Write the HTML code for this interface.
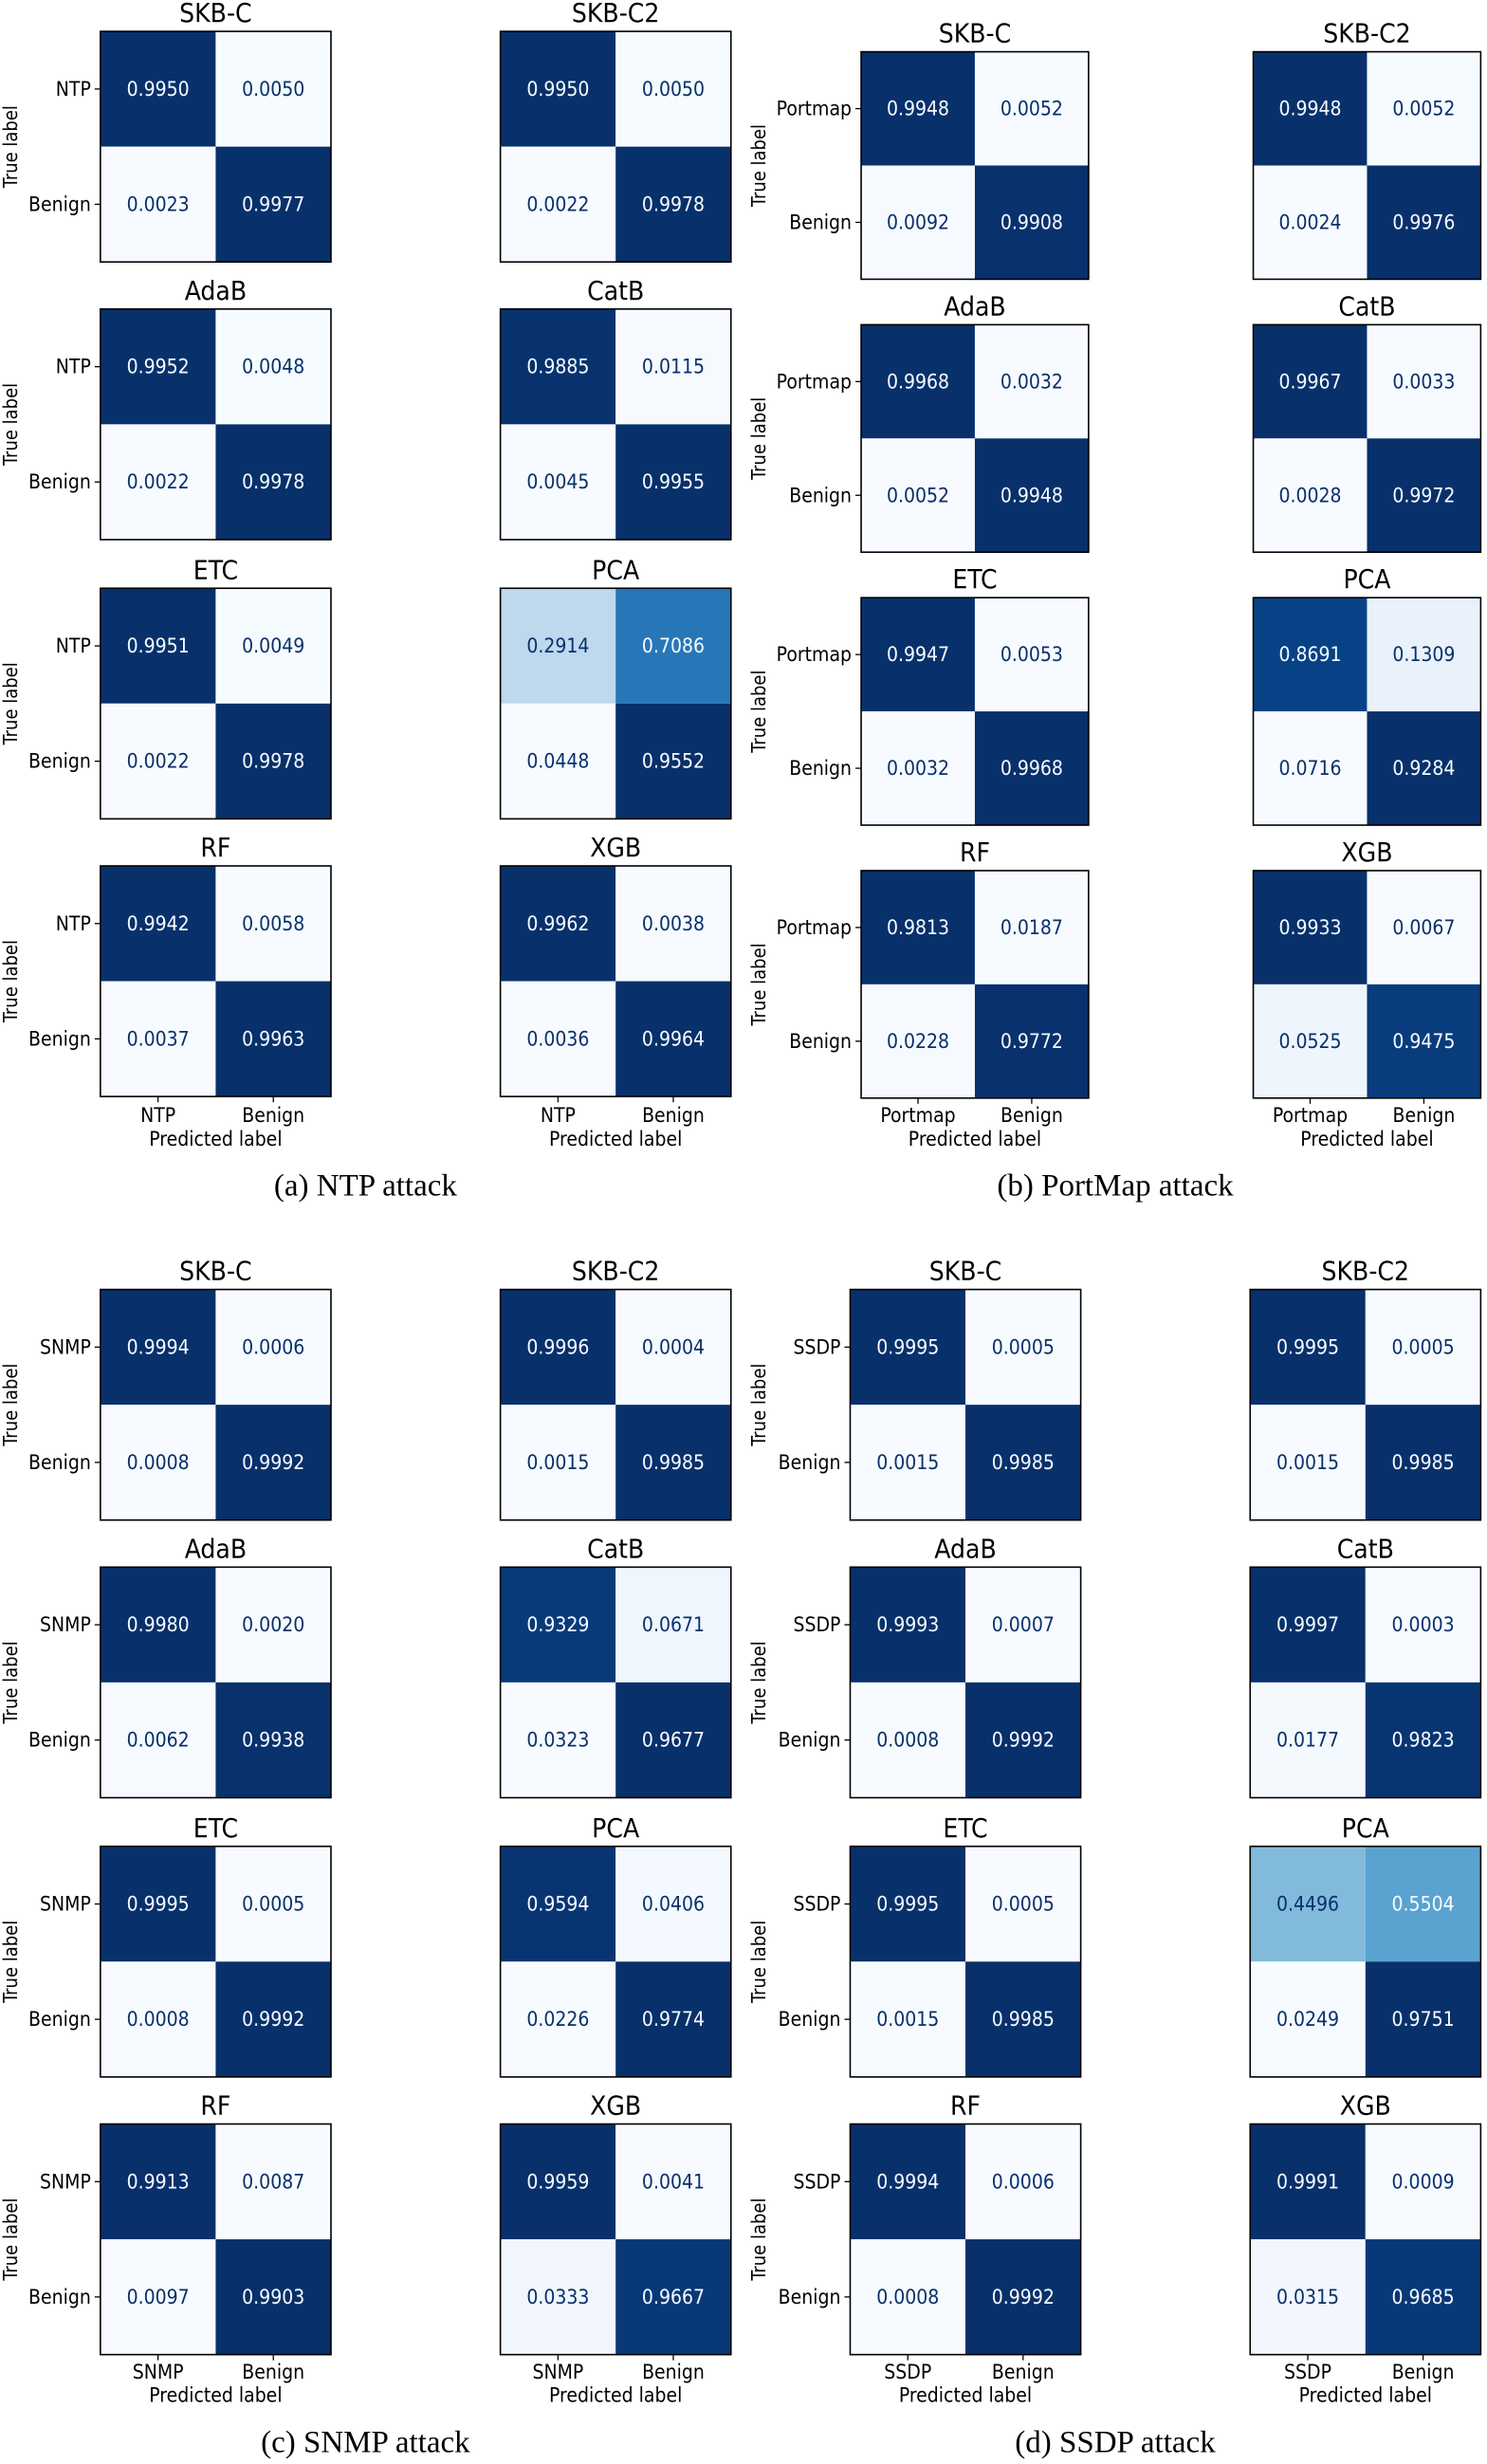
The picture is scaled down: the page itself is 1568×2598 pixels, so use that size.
<!DOCTYPE html>
<html><head><meta charset="utf-8"><style>
html,body{margin:0;padding:0;background:#fff;}
svg{display:block;}
text{font-family:"DejaVu Sans Condensed","DejaVu Sans","Liberation Sans",sans-serif;}
.cap{font-family:"Liberation Serif","DejaVu Serif",serif;}
</style></head><body>
<svg id="fig" xmlns="http://www.w3.org/2000/svg" width="1568" height="2598" viewBox="0 0 1568 2598"></svg>
<script>
// ---- data ----
const models = ["SKB-C","SKB-C2","AdaB","CatB","ETC","PCA","RF","XGB"];
const classesA = ["NTP","Benign"];
const classesB = ["Portmap","Benign"];
const classesC = ["SNMP","Benign"];
const classesD = ["SSDP","Benign"];
const captions = ["(a) NTP attack","(b) PortMap attack","(c) SNMP attack","(d) SSDP attack"];
const valuesA = [[.9950,.0050,.0023,.9977],[.9950,.0050,.0022,.9978],[.9952,.0048,.0022,.9978],[.9885,.0115,.0045,.9955],[.9951,.0049,.0022,.9978],[.2914,.7086,.0448,.9552],[.9942,.0058,.0037,.9963],[.9962,.0038,.0036,.9964]];
const valuesB = [[.9948,.0052,.0092,.9908],[.9948,.0052,.0024,.9976],[.9968,.0032,.0052,.9948],[.9967,.0033,.0028,.9972],[.9947,.0053,.0032,.9968],[.8691,.1309,.0716,.9284],[.9813,.0187,.0228,.9772],[.9933,.0067,.0525,.9475]];
const valuesC = [[.9994,.0006,.0008,.9992],[.9996,.0004,.0015,.9985],[.9980,.0020,.0062,.9938],[.9329,.0671,.0323,.9677],[.9995,.0005,.0008,.9992],[.9594,.0406,.0226,.9774],[.9913,.0087,.0097,.9903],[.9959,.0041,.0333,.9667]];
const valuesD = [[.9995,.0005,.0015,.9985],[.9995,.0005,.0015,.9985],[.9993,.0007,.0008,.9992],[.9997,.0003,.0177,.9823],[.9995,.0005,.0015,.9985],[.4496,.5504,.0249,.9751],[.9994,.0006,.0008,.9992],[.9991,.0009,.0315,.9685]];

// ---- layout (display units, scaled by S) ----
const S = 1.654;
const panels = [
  {name:"ntp", cls:classesA, vals:valuesA, cols:[64,319], size:147, rows:[20,197,375,552], tickY:711, capX:233, capY:756, ylabX:6},
  {name:"portmap", cls:classesB, vals:valuesB, cols:[549,799], size:145, rows:[33,207,381,555], tickY:711, capX:711, capY:756, ylabX:483},
  {name:"snmp", cls:classesC, vals:valuesC, cols:[64,319], size:147, rows:[822,999,1177,1354], tickY:1512, capX:233, capY:1557, ylabX:6},
  {name:"ssdp", cls:classesD, vals:valuesD, cols:[542,797], size:147, rows:[822,999,1177,1354], tickY:1512, capX:711, capY:1557, ylabX:483}
];

const stops = ["#f7fbff","#deebf7","#c6dbef","#9ecae1","#6baed6","#4292c6","#2171b5","#08519c","#08306b"];
function hex(c){return [1,3,5].map(i=>parseInt(c.substr(i,2),16));}
function blues(t){
  t=Math.max(0,Math.min(1,t));
  const p=t*(stops.length-1), i=Math.min(stops.length-2,Math.floor(p)), f=p-i;
  const a=hex(stops[i]), b=hex(stops[i+1]);
  return "rgb("+a.map((v,k)=>Math.round(v+(b[k]-v)*f)).join(",")+")";
}
const NS="http://www.w3.org/2000/svg";
const svg=document.getElementById("fig");
function el(tag, attrs, parent, txt){
  const e=document.createElementNS(NS,tag);
  for(const k in attrs) e.setAttribute(k,attrs[k]);
  if(txt!==undefined) e.textContent=txt;
  (parent||svg).appendChild(e); return e;
}

panels.forEach((P,pi)=>{
  const g=el("g",{});
  
  
  const size=P.size*S, cell=size/2;
  P.vals.forEach((v,mi)=>{
    const col=mi%2, row=Math.floor(mi/2);
    const x0=P.cols[col]*S, y0=P.rows[row]*S;
    const mn=Math.min(...v), mx=Math.max(...v), thr=(mn+mx)/2;
    const mg=el("g",{},g);
    
    
    const t=el("text",{x:x0+size/2,y:y0-10,"text-anchor":"middle","font-size":28,fill:"#000"},mg,models[mi]);
    
    
    v.forEach((val,ci)=>{
      const r=Math.floor(ci/2), c=ci%2;
      const cx=x0+c*cell, cy=y0+r*cell;
      const rc=el("rect",{x:cx,y:cy,width:cell,height:cell,fill:blues((val-mn)/(mx-mn))},mg);
      
      
      const tx=el("text",{x:cx+cell/2,y:cy+cell/2+7,"text-anchor":"middle","font-size":21,fill:val>thr?"#f7fbff":"#08306b"},mg,val.toFixed(4));
      
      
    });
    el("rect",{x:x0,y:y0,width:size,height:size,fill:"none",stroke:"#000","stroke-width":1.6},mg);
    if(col===0){
      P.cls.forEach((cl,k)=>{
        const yy=y0+cell*(k+0.5);
        el("line",{x1:x0-6,x2:x0,y1:yy,y2:yy,stroke:"#000","stroke-width":1.3},mg);
        const yl=el("text",{x:x0-10,y:yy+7,"text-anchor":"end","font-size":21,fill:"#000"},mg,cl);
        
        
      });
      const lx=P.ylabX*S+8, ly=y0+size/2;
      const yt=el("text",{x:lx,y:ly,"text-anchor":"middle","font-size":20,fill:"#000",transform:"rotate(-90 "+lx+" "+ly+")","font-family":"DejaVu Sans, sans-serif"},mg,"True label");
      
      
    }
    if(row===3){
      P.cls.forEach((cl,k)=>{
        const xx=x0+cell*(k+0.5);
        el("line",{x1:xx,x2:xx,y1:y0+size,y2:y0+size+6,stroke:"#000","stroke-width":1.3},mg);
        const xl=el("text",{x:xx,y:P.tickY*S+7,"text-anchor":"middle","font-size":21,fill:"#000"},mg,cl);
        
        
      });
      const xt=el("text",{x:x0+size/2,y:(P.tickY+15)*S+7,"text-anchor":"middle","font-size":21,fill:"#000"},mg,"Predicted label");
      
      
    }
  });
  const cp=el("text",{x:P.capX*S,y:P.capY*S+10,"text-anchor":"middle","font-size":33,fill:"#000","class":"cap"},g,captions[pi]);
  
  
});
</script>
</body></html>
